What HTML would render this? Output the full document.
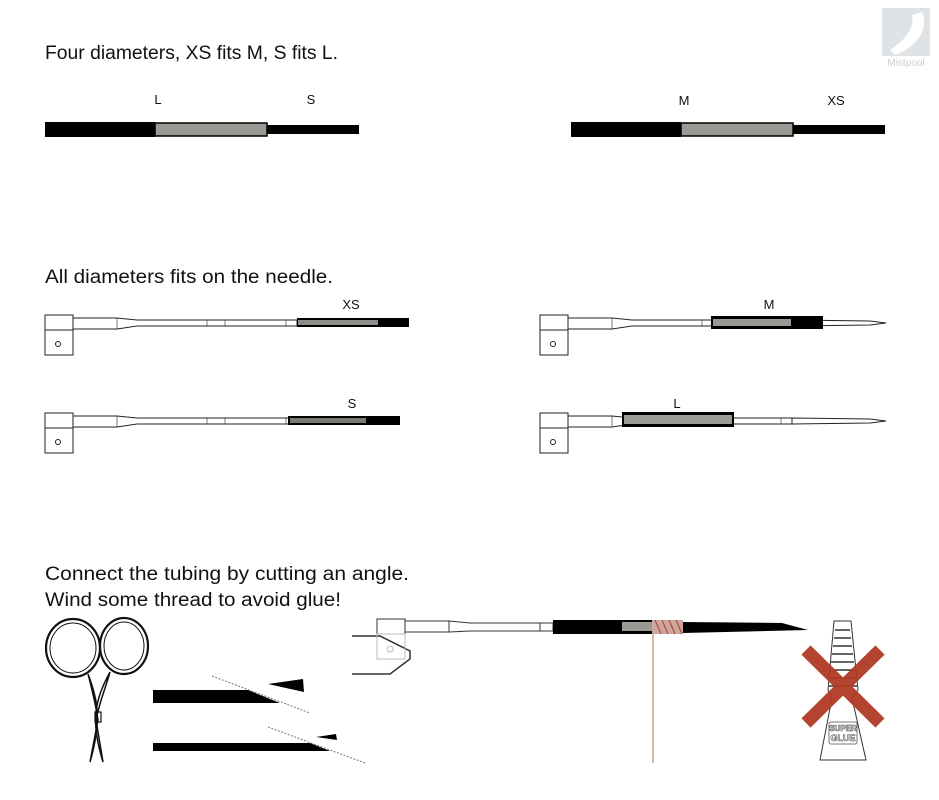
<!DOCTYPE html>
<html><head><meta charset="utf-8"><style>
body{margin:0;background:#fff;}
svg{display:block;font-family:"Liberation Sans",sans-serif;}
</style></head><body>
<svg width="939" height="800" viewBox="0 0 939 800" xmlns="http://www.w3.org/2000/svg">
<defs>
<g id="needle" fill="#fff" stroke="#222" stroke-width="1">
  <rect x="45" y="315" width="28" height="15"/>
  <rect x="45" y="330" width="28" height="25"/>
  <circle cx="58" cy="344" r="2.5" fill="none"/>
  <path d="M73 318 L117 318 L137 320 L297 320 L297 326 L137 326 L117 329 L73 329 Z"/>
  <path d="M117 318 V329 M207 320 V326 M225 320 V326 M286 320 V326" stroke-width="0.6"/>
</g>
</defs>
<rect width="939" height="800" fill="#fff"/>
<!-- logo -->
<rect x="882" y="8" width="48" height="48" fill="#dfe3e6"/>
<path d="M922 12 C930 30 915 48 895 55 L890 50 C905 40 915 28 912 15 Z" fill="#fff"/>
<text x="906" y="66" font-size="10" fill="#c9ced2" text-anchor="middle">Mistpool</text>

<g font-size="19" fill="#111">
<text x="45" y="59" textLength="293" lengthAdjust="spacingAndGlyphs">Four diameters, XS fits M, S fits L.</text>
<text x="45" y="283" textLength="288" lengthAdjust="spacingAndGlyphs">All diameters fits on the needle.</text>
<text x="45" y="580" textLength="364" lengthAdjust="spacingAndGlyphs">Connect the tubing by cutting an angle.</text>
<text x="45" y="606" textLength="296" lengthAdjust="spacingAndGlyphs">Wind some thread to avoid glue!</text>
</g>
<g font-size="13" fill="#111" text-anchor="middle">
<text x="158" y="104">L</text><text x="311" y="104">S</text>
<text x="684" y="105">M</text><text x="836" y="105">XS</text>
<text x="351" y="309">XS</text><text x="352" y="408">S</text>
<text x="769" y="309">M</text><text x="677" y="408">L</text>
</g>
<!-- top tubes -->
<rect x="45" y="122" width="110" height="15" fill="#000"/>
<rect x="155" y="123" width="112" height="13" fill="#9a9a95" stroke="#000" stroke-width="1.5"/>
<rect x="267" y="125" width="92" height="9" fill="#000"/>
<rect x="571" y="122" width="110" height="15" fill="#000"/>
<rect x="681" y="123" width="112" height="13" fill="#9a9a95" stroke="#000" stroke-width="1.5"/>
<rect x="793" y="125" width="92" height="9" fill="#000"/>

<!-- needles -->
<use href="#needle"/>
<rect x="297" y="318" width="112" height="9" fill="#000"/>
<rect x="298" y="320" width="80" height="5" fill="#8e8e89"/>
<use href="#needle" transform="translate(0,98)"/>
<rect x="288" y="416" width="112" height="9" fill="#000"/>
<rect x="290" y="418" width="76" height="5" fill="#7a7a75"/>

<use href="#needle" transform="translate(495,0)"/>
<path d="M792 320 L870 321 L886 323 L870 325 L792 326 Z" fill="#fff" stroke="#222" stroke-width="1"/>
<rect x="711" y="316" width="112" height="13" fill="#000"/>
<rect x="713" y="319" width="78" height="7" fill="#9a9a95"/>
<use href="#needle" transform="translate(495,98)"/>
<path d="M792 418 L870 419 L886 421 L870 423 L792 424 Z" fill="#fff" stroke="#222" stroke-width="1"/>
<rect x="622" y="412" width="112" height="15" fill="#000"/>
<rect x="624" y="415" width="108" height="9" fill="#9a9a95"/>

<!-- bottom needle -->
<g fill="none" stroke="#333" stroke-width="1">
<path d="M352 636 H380 L410 651 V659 L390 674 H352" stroke-width="1.5"/>
<rect x="377" y="619" width="28" height="15" fill="#fff"/>
<rect x="377" y="634" width="28" height="25" stroke="#bbb"/>
<circle cx="390" cy="649" r="3" stroke="#bbb"/>
<path d="M405 621 L449 621 L470 623 L553 623 L553 631 L470 631 L449 632 L405 632 Z" fill="#fff"/>
<path d="M449 621 V632 M540 623 V631"/>
</g>
<rect x="553" y="620" width="100" height="14" fill="#000"/>
<rect x="622" y="622" width="33" height="9" fill="#9a9a95"/>
<path d="M652 620 L683 620 L683 634 L652 634 Z" fill="#c8a8a0"/>
<path d="M655 620 l6 14 M662 620 l6 14 M669 620 l6 14 M676 620 l6 14" stroke="#c0392b" stroke-width="1"/>
<path d="M683 622 L782 623 L808 630 L683 633 Z" fill="#000"/>
<line x1="653" y1="634" x2="653" y2="763" stroke="#c06a55" stroke-width="1"/>

<!-- scissors -->
<g fill="none" stroke="#111" stroke-width="2.2">
<ellipse cx="73" cy="648" rx="27" ry="29"/>
<ellipse cx="73" cy="648" rx="23" ry="25" stroke-width="1"/>
<ellipse cx="124" cy="646" rx="24" ry="28"/>
<ellipse cx="124" cy="646" rx="20" ry="24" stroke-width="1"/>
<path d="M88 674 C98 700 102 720 90 762 L98 720 C95 700 92 690 88 674" stroke-width="1.5"/>
<path d="M110 672 C95 700 90 720 103 762 L96 720 C100 700 105 690 110 672" stroke-width="1.5"/>
<rect x="95" y="712" width="6" height="10" stroke-width="1.2"/>
</g>
<!-- cut tubes -->
<path d="M153 690 H248 L280 703 H153 Z" fill="#000"/>
<path d="M268 684 L303 679 L304 692 Z" fill="#000"/>
<line x1="212" y1="676" x2="310" y2="713" stroke="#777" stroke-width="1" stroke-dasharray="2,1.5"/>
<path d="M153 743 H310 L330 751 H153 Z" fill="#000"/>
<path d="M316 737 L336 734 L337 740 Z" fill="#000"/>
<line x1="268" y1="727" x2="365" y2="763" stroke="#777" stroke-width="1" stroke-dasharray="2,1.5"/>

<!-- glue bottle -->
<g fill="#fff" stroke="#333" stroke-width="1">
<path d="M834 621 H851 L858 690 L852 698 L866 760 H820 L832 698 L828 690 Z"/>
<path d="M835 630 H850 M834 638 H851 M833 646 H852 M832 654 H853 M831 662 H854 M830 670 H855 M829 678 H856 M829 686 H857" stroke-width="1.5"/>
<rect x="829" y="722" width="28" height="22" rx="2" stroke="#777"/>
</g>
<text x="843" y="731" font-size="8" font-weight="bold" fill="#fff" stroke="#555" stroke-width="0.6" text-anchor="middle">SUPER</text>
<text x="843" y="741" font-size="9" font-weight="bold" fill="#fff" stroke="#555" stroke-width="0.6" text-anchor="middle">GLUE</text>
<g stroke="#b03a25" stroke-width="13" opacity="0.95">
<line x1="806" y1="650" x2="880" y2="723"/>
<line x1="880" y1="650" x2="806" y2="723"/>
</g>
</svg>
</body></html>
